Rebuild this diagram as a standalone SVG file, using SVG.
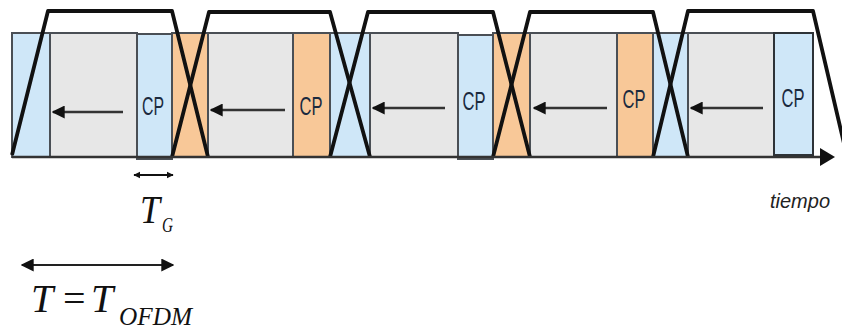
<svg xmlns="http://www.w3.org/2000/svg" width="842" height="332" viewBox="0 0 842 332">
<defs>
<style>
.bl{fill:#cfe7f8;stroke:#4a4f55;stroke-width:2}
.or{fill:#f8c898;stroke:#4a4f55;stroke-width:2}
.gr{fill:#e7e7e7;stroke:#4a4f55;stroke-width:2}
.cp{font-family:"Liberation Sans",Arial,sans-serif;font-size:25px;fill:#1b2a3e;text-anchor:middle}
.tr{fill:none;stroke:#111;stroke-width:3.8;stroke-linejoin:round}
.ar{stroke:#333;stroke-width:2.5;fill:none}
.ah{fill:#111}
.mt{font-family:"Liberation Serif","Times New Roman",serif;font-style:italic;fill:#111}
.mr{font-family:"Liberation Serif","Times New Roman",serif;fill:#111}
</style>
<marker id="hd" viewBox="0 0 10 10" refX="9" refY="5" markerWidth="13" markerHeight="13" markerUnits="userSpaceOnUse" orient="auto-start-reverse">
<path d="M0,0 L10,5 L0,10 Z" fill="#111"/>
</marker>
<marker id="hs" viewBox="0 0 10 10" refX="9" refY="5" markerWidth="7" markerHeight="9" markerUnits="userSpaceOnUse" orient="auto-start-reverse">
<path d="M0,0 L10,5 L0,10 Z" fill="#111"/>
</marker>
</defs>
<rect width="842" height="332" fill="#fff"/>

<g id="boxes">
<g id="b1"><rect class="bl" x="12" y="33" width="38" height="124"/></g>
<g id="b2"><rect class="gr" x="50" y="33" width="87" height="124"/></g>
<g id="cp1"><rect class="bl" x="137" y="34" width="35" height="125"/><text class="cp" x="153" y="115" textLength="22" lengthAdjust="spacingAndGlyphs">CP</text></g>
<g id="b3"><rect class="or" x="172" y="33" width="36" height="124"/></g>
<g id="b4"><rect class="gr" x="208" y="33" width="85" height="124"/></g>
<g id="cp2"><rect class="or" x="293" y="33" width="37" height="124"/><text class="cp" x="311" y="115" textLength="23" lengthAdjust="spacingAndGlyphs">CP</text></g>
<g id="b5"><rect class="bl" x="330" y="33" width="40" height="124"/></g>
<g id="b6"><rect class="gr" x="370" y="33" width="88" height="124"/></g>
<g id="cp3"><rect class="bl" x="458" y="35" width="35" height="124"/><text class="cp" x="474" y="110" textLength="23" lengthAdjust="spacingAndGlyphs">CP</text></g>
<g id="b7"><rect class="or" x="493" y="33" width="37" height="124"/></g>
<g id="b8"><rect class="gr" x="530" y="33" width="87" height="124"/></g>
<g id="cp4"><rect class="or" x="617" y="33" width="36" height="124"/><text class="cp" x="634" y="108" textLength="23" lengthAdjust="spacingAndGlyphs">CP</text></g>
<g id="b9"><rect class="bl" x="653" y="33" width="35" height="124"/></g>
<g id="b10"><rect class="gr" x="688" y="33" width="86" height="124"/></g>
<g id="cp5"><rect class="bl" x="774" y="33" width="39" height="122" style="stroke:#2e3338"/><text class="cp" x="793" y="107" textLength="23" lengthAdjust="spacingAndGlyphs">CP</text></g>
</g>

<g id="windows">
<polyline class="tr" points="12,155 48,11 172,11 208,157"/>
<polyline class="tr" points="172,157 209,12 330,12 370,157"/>
<polyline class="tr" points="330,157 368,12 493,12 530,157"/>
<polyline class="tr" points="493,157 530,12 653,12 688,157"/>
<polyline class="tr" points="653,157 688,11 813,11 846,152"/>
</g>

<g id="connectors">
<line class="ar" x1="123" y1="112" x2="53" y2="112" marker-end="url(#hd)"/>
<line class="ar" x1="285" y1="110" x2="211" y2="110" marker-end="url(#hd)"/>
<line class="ar" x1="445" y1="108" x2="373" y2="108" marker-end="url(#hd)"/>
<line class="ar" x1="607" y1="108" x2="534" y2="108" marker-end="url(#hd)"/>
<line class="ar" x1="763" y1="108" x2="691" y2="108" marker-end="url(#hd)"/>
<line x1="12" y1="157" x2="822" y2="157" stroke="#333" stroke-width="2.5"/>
<polygon class="ah" points="820,148 835,157 820,166"/>
<line x1="134" y1="175" x2="173" y2="175" stroke="#111" stroke-width="2.2" marker-start="url(#hs)" marker-end="url(#hs)"/>
<line x1="22" y1="265" x2="173" y2="265" stroke="#222" stroke-width="2.2" marker-start="url(#hd)" marker-end="url(#hd)"/>
</g>

<g id="labels">
<text class="mt" x="140" y="223" font-size="40" textLength="20" lengthAdjust="spacingAndGlyphs">T</text>
<text class="mt" x="162" y="232" font-size="22" textLength="11" lengthAdjust="spacingAndGlyphs">G</text>
<text class="mt" x="31" y="312" font-size="40">T</text>
<text class="mr" x="63" y="312" font-size="40">=</text>
<text class="mt" x="91" y="312" font-size="40">T</text>
<text class="mt" x="119" y="325" font-size="26" textLength="73" lengthAdjust="spacingAndGlyphs">OFDM</text>
<text x="770" y="208" font-family="Liberation Sans,Arial,sans-serif" font-style="italic" font-size="21" fill="#222" textLength="60" lengthAdjust="spacingAndGlyphs">tiempo</text>
</g>
</svg>
